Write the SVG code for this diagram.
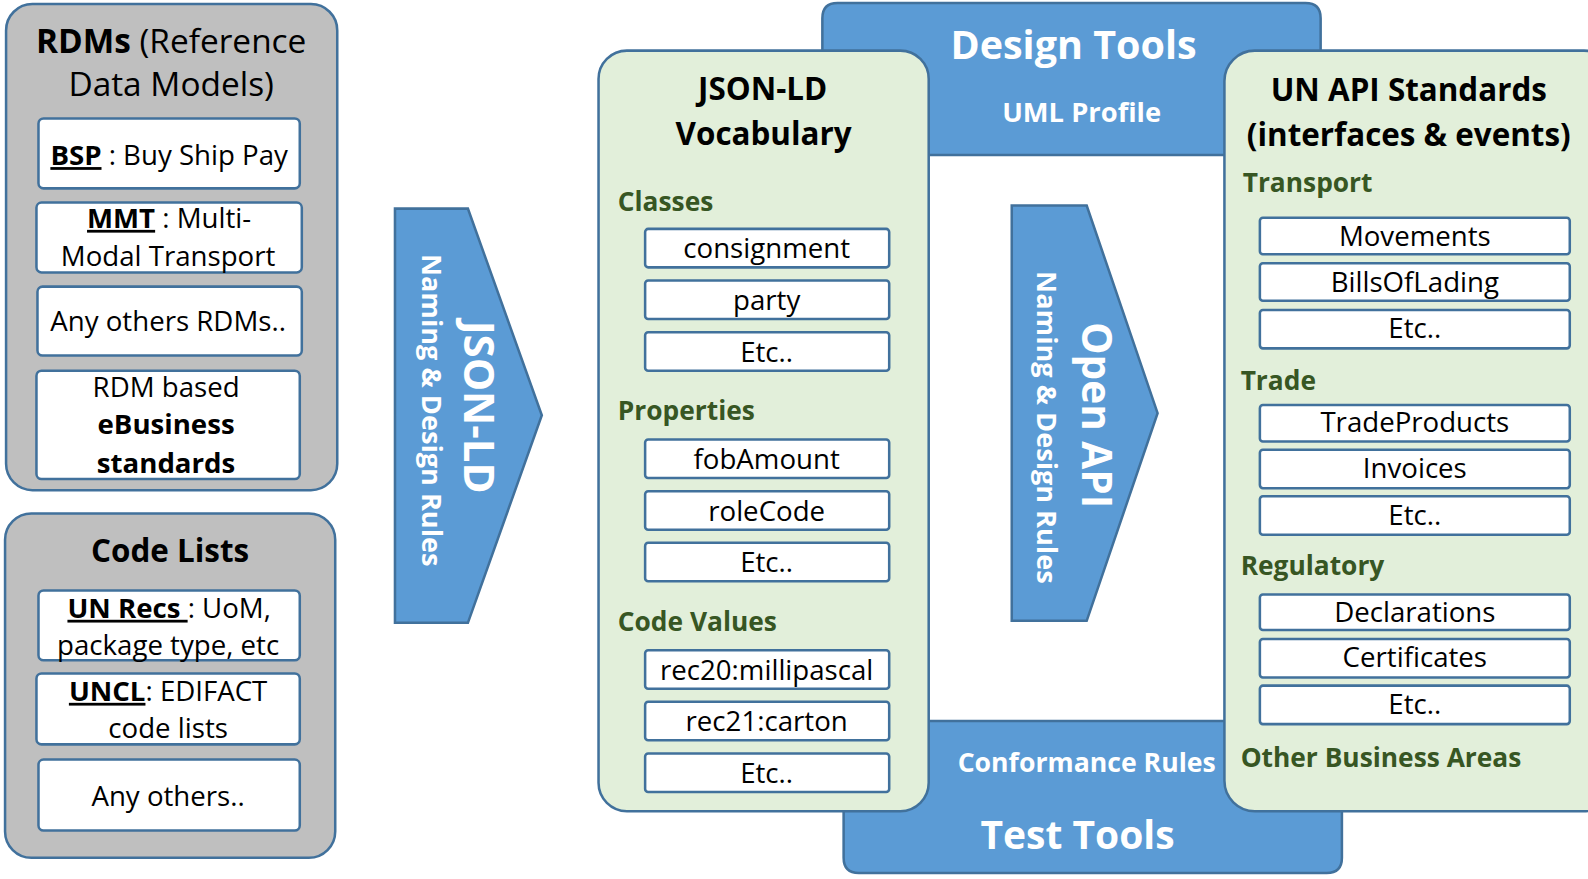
<svg xmlns="http://www.w3.org/2000/svg" width="1588" height="879" viewBox="0 0 1588 879">
<style>
text{font-family:"Open Sans","Noto Sans","Liberation Sans",sans-serif;}
.gray{fill:#bfbfbf;stroke:#41719c;stroke-width:2.5;}
.green{fill:#e2efda;stroke:#41719c;stroke-width:2.5;}
.blue{fill:#5b9bd5;stroke:#41719c;stroke-width:2.5;}
.box{fill:#ffffff;stroke:#41719c;stroke-width:2.5;}
.t{font-size:27.3px;fill:#000;text-anchor:middle;}
.ttl{font-size:31px;fill:#000;text-anchor:middle;}
.b{font-weight:bold;}
.u{text-decoration:underline;}
.sec{font-size:26px;font-weight:bold;fill:#375623;}
.wh{fill:#ffffff;font-weight:bold;text-anchor:middle;}
</style>
<g transform="scale(1.01276)">
<g id="design-tools">
<path class="blue" d="M812,153 V18 Q812,3 827,3 H1289 Q1304,3 1304,18 V153 Z"/>
<text class="wh" x="1060" y="58" font-size="39">Design Tools</text>
<text class="wh" x="1068" y="120" font-size="27">UML Profile</text>
</g>
<g id="test-tools">
<path class="blue" d="M833,712 H1325 V847 Q1325,862 1310,862 H848 Q833,862 833,847 Z"/>
<text class="wh" x="1073" y="762" font-size="26.3">Conformance Rules</text>
<text class="wh" x="1064" y="838" font-size="38.5">Test Tools</text>
</g>
<g id="rdms">
<rect class="gray" x="6" y="4" width="327" height="480" rx="26"/>
<text class="ttl" x="169" y="52" style="font-size:33px"><tspan class="b">RDMs</tspan> (Reference</text>
<text class="ttl" x="169" y="95" style="font-size:33px">Data Models)</text>
<rect class="box" x="38" y="117" width="258" height="69" rx="5"/>
<text class="t" x="167" y="163"><tspan class="b u">BSP</tspan> : Buy Ship Pay</text>
<rect class="box" x="36" y="200" width="262" height="69" rx="5"/>
<text class="t" x="167" y="225"><tspan class="b u">MMT</tspan> : Multi-</text>
<text class="t" x="166" y="263">Modal Transport</text>
<rect class="box" x="37" y="283" width="261" height="68" rx="5"/>
<text class="t" x="166" y="327">Any others RDMs..</text>
<rect class="box" x="36" y="366" width="260" height="107" rx="5"/>
<text class="t" x="164" y="392">RDM based</text>
<text class="t b" x="164" y="429">eBusiness</text>
<text class="t b" x="164" y="467">standards</text>
</g>
<g id="code-lists">
<rect class="gray" x="5" y="507" width="326" height="340" rx="26"/>
<text class="ttl b" x="168" y="555">Code Lists</text>
<rect class="box" x="38" y="583" width="258" height="69" rx="5"/>
<text class="t" x="167" y="610"><tspan class="b u">UN Recs </tspan>: UoM,</text>
<text class="t" x="166" y="647">package type, etc</text>
<rect class="box" x="36" y="665" width="260" height="70" rx="5"/>
<text class="t" x="166" y="692"><tspan class="b u">UNCL</tspan>: EDIFACT</text>
<text class="t" x="166" y="729">code lists</text>
<rect class="box" x="38" y="750" width="258" height="70" rx="5"/>
<text class="t" x="166" y="796">Any others..</text>
</g>
<g id="jsonld-arrow">
<polygon class="blue" points="390,206 462,206 535,410 462,615 390,615"/>
<text class="wh" font-size="41.5" transform="translate(458,402) rotate(90)">JSON-LD</text>
<text class="wh" font-size="26.8" transform="translate(417,405) rotate(90)">Naming &amp; Design Rules</text>
</g>
<g id="openapi-arrow">
<polygon class="blue" points="999,203 1073,203 1143,408 1073,613 999,613"/>
<text class="wh" font-size="40" transform="translate(1068,410) rotate(90)">Open API</text>
<text class="wh" font-size="26.8" transform="translate(1024,422) rotate(90)">Naming &amp; Design Rules</text>
</g>
<g id="jsonld-vocabulary">
<rect class="green" x="591" y="50" width="326" height="751" rx="28"/>
<text class="ttl b" x="753" y="99">JSON-LD</text>
<text class="ttl b" x="754" y="143">Vocabulary</text>
<text class="sec" x="610" y="208">Classes</text>
<rect class="box" x="637" y="226" width="241" height="38" rx="3"/>
<text class="t" x="757" y="255">consignment</text>
<rect class="box" x="637" y="277" width="241" height="38" rx="3"/>
<text class="t" x="757" y="306">party</text>
<rect class="box" x="637" y="328" width="241" height="38" rx="3"/>
<text class="t" x="757" y="357">Etc..</text>
<text class="sec" x="610" y="415">Properties</text>
<rect class="box" x="637" y="434" width="241" height="38" rx="3"/>
<text class="t" x="757" y="463">fobAmount</text>
<rect class="box" x="637" y="485" width="241" height="38" rx="3"/>
<text class="t" x="757" y="514">roleCode</text>
<rect class="box" x="637" y="536" width="241" height="38" rx="3"/>
<text class="t" x="757" y="565">Etc..</text>
<text class="sec" x="610" y="623">Code Values</text>
<rect class="box" x="637" y="642" width="241" height="38" rx="3"/>
<text class="t" x="757" y="671">rec20:millipascal</text>
<rect class="box" x="637" y="693" width="241" height="38" rx="3"/>
<text class="t" x="757" y="722">rec21:carton</text>
<rect class="box" x="637" y="744" width="241" height="38" rx="3"/>
<text class="t" x="757" y="773">Etc..</text>
</g>
<g id="un-api-standards">
<rect class="green" x="1209" y="50" width="385" height="751" rx="30"/>
<text class="ttl b" x="1391" y="100">UN API Standards</text>
<text class="ttl b" x="1391" y="144">(interfaces &amp; events)</text>
<text class="sec" x="1227" y="190">Transport</text>
<rect class="box" x="1244" y="215" width="306" height="36" rx="3"/>
<text class="t" x="1397" y="243">Movements</text>
<rect class="box" x="1244" y="260" width="306" height="37" rx="3"/>
<text class="t" x="1397" y="288">BillsOfLading</text>
<rect class="box" x="1244" y="306" width="306" height="38" rx="3"/>
<text class="t" x="1397" y="334">Etc..</text>
<text class="sec" x="1225" y="385">Trade</text>
<rect class="box" x="1244" y="400" width="306" height="36" rx="3"/>
<text class="t" x="1397" y="427">TradeProducts</text>
<rect class="box" x="1244" y="444" width="306" height="38" rx="3"/>
<text class="t" x="1397" y="472">Invoices</text>
<rect class="box" x="1244" y="490" width="306" height="38" rx="3"/>
<text class="t" x="1397" y="518">Etc..</text>
<text class="sec" x="1225" y="568">Regulatory</text>
<rect class="box" x="1244" y="587" width="306" height="35" rx="3"/>
<text class="t" x="1397" y="614">Declarations</text>
<rect class="box" x="1244" y="631" width="306" height="38" rx="3"/>
<text class="t" x="1397" y="659">Certificates</text>
<rect class="box" x="1244" y="677" width="306" height="38" rx="3"/>
<text class="t" x="1397" y="705">Etc..</text>
<text class="sec" x="1225" y="757">Other Business Areas</text>
</g>
<g id="connectors"></g>
</g>
</svg>
